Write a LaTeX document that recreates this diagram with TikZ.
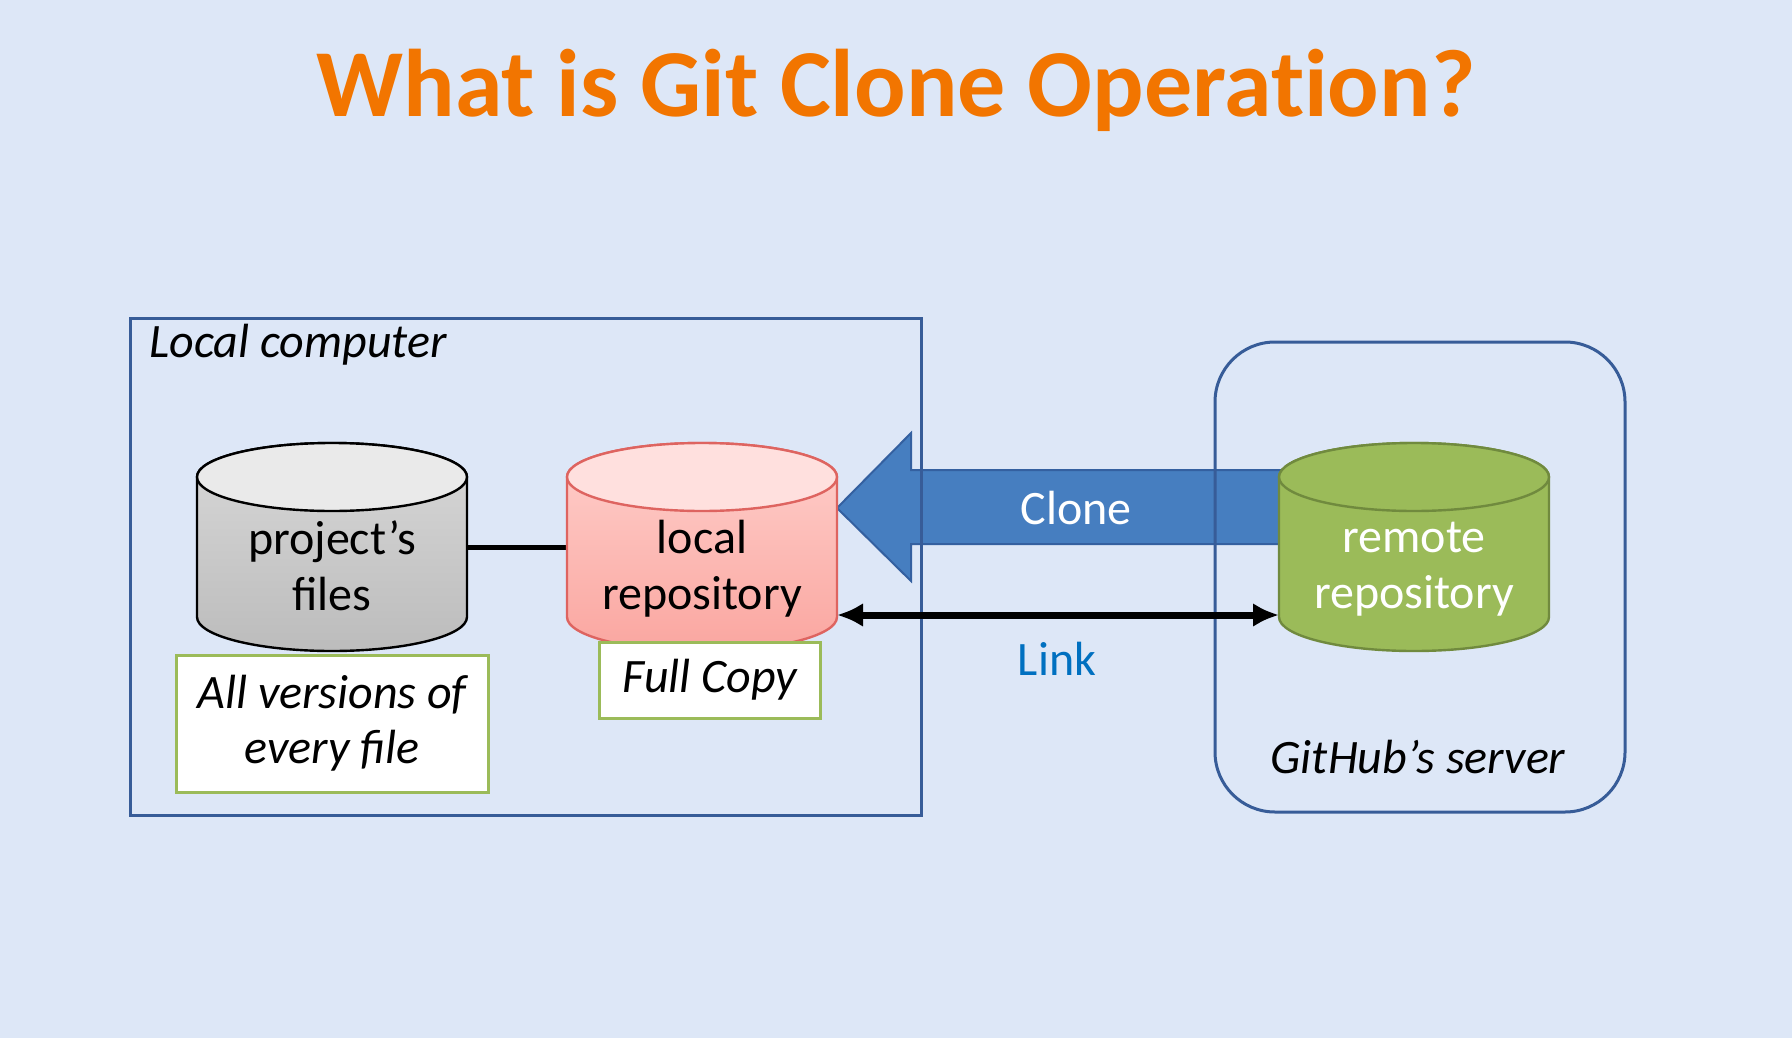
\documentclass[tikz,border=0pt]{standalone}
\usepackage{fontspec}
\setmainfont{Carlito}
\usetikzlibrary{positioning, arrows.meta}

\definecolor{slidebg}{RGB}{221,231,247}
\definecolor{titleorange}{RGB}{242,117,0}
\definecolor{frameblue}{RGB}{55,92,152}
\definecolor{notegreen}{RGB}{155,187,89}
\definecolor{clonefill}{RGB}{70,126,192}
\definecolor{cloneline}{RGB}{52,96,160}
\definecolor{linkblue}{RGB}{0,112,192}
\definecolor{grayend}{RGB}{234,234,234}
\definecolor{graytop}{RGB}{216,216,216}
\definecolor{graybottom}{RGB}{188,188,188}
\definecolor{redend}{RGB}{255,224,222}
\definecolor{redtop}{RGB}{255,208,204}
\definecolor{redbottom}{RGB}{250,166,160}
\definecolor{redline}{RGB}{222,100,96}
\definecolor{greenfill}{RGB}{155,187,89}
\definecolor{greenline}{RGB}{112,138,62}

\tikzset{
    cylbox/.style={draw=none, minimum width=135pt, minimum height=104pt, inner sep=0pt, outer sep=0pt},
    cyltext/.style={align=center, inner sep=0pt, font=\fontsize{24}{28}\selectfont},
    notebox/.style={draw=notegreen, line width=1.5pt, fill=white, inner sep=0pt, outer sep=0pt, align=center, font=\fontsize{24}{27.5}\selectfont\itshape},
    framebox/.style={draw=frameblue, line width=1.5pt, inner sep=0pt, outer sep=0pt},
    plaintext/.style={inner sep=0pt, font=\fontsize{24}{28}\selectfont\itshape}
}

\begin{document}
\begin{tikzpicture}[x=0.5pt, y=-0.5pt]
        %%% Slide background
            \fill[slidebg] (0,0) rectangle (1792,1038);
            \useasboundingbox (0,0) rectangle (1792,1038);

            % Title line
            \node[anchor=base, inner sep=0pt, text=titleorange, font=\fontsize{48}{56}\selectfont\bfseries\addfontfeature{Ligatures=NoCommon}] (title) at (896,117) {What is Git Clone Operation?};

        %%% Cylinders (empty boxes first, the drawing follows the anchors)
            \node[cylbox] (files) at (332,547) {};
            \node[cylbox, right=50pt of files] (lrepo) {};
            \node[cylbox, right=221pt of lrepo] (rrepo) {};

        %%% Clone arrow, from the remote to the local repository
            \draw[fill=clonefill, draw=cloneline, line width=1pt, line join=miter] ([yshift=19.5pt]lrepo.east) -- ++(37pt,37.5pt) -- ++(0,-18.5pt) -- ++(200pt,0) -- ++(0,-37pt) -- ++(-200pt,0) -- ++(0,-18.5pt) -- cycle;
            \node[inner sep=0pt, text=white, font=\fontsize{24}{28}\selectfont] (clonetxt) at (1076,508) {Clone};

        %%% Frames
            % Local computer, plain rectangle
            \node[framebox, minimum width=395.5pt, minimum height=248.5pt, anchor=north west] (local) at (130,318) {};
            \node[plaintext, anchor=base west] (localtxt) at ([xshift=9.5pt, yshift=-19.5pt]local.north west) {Local computer};

            % GitHub's server, rounded rectangle
            \node[framebox, rounded corners=30pt, minimum width=205pt, minimum height=235pt] (server) at (1420,577) {};
            \node[plaintext, anchor=base] (servertxt) at (1418,773) {GitHub's server};

        %%% Connectors
            \draw[line width=2.5pt] (files.east) -- (lrepo.west); % files to local repository
            \draw[line width=3.5pt, {Latex[length=13pt, width=12pt]}-{Latex[length=13pt, width=12pt]}] ([yshift=-34pt]lrepo.east) -- ([yshift=-34pt]rrepo.west); % link
            \node[inner sep=0pt, anchor=base, text=linkblue, font=\fontsize{24}{28}\selectfont] (linktxt) at (1057,675) {Link};

        %%% First cylinder: project's files
            \draw[draw=black, line width=1.2pt, top color=graytop, bottom color=graybottom] ([yshift=-17pt]files.north west) -- ([yshift=17pt]files.south west) arc[start angle=180, end angle=360, x radius=67.5pt, y radius=17pt] -- ([yshift=-17pt]files.north east) arc[start angle=0, end angle=180, x radius=67.5pt, y radius=17pt] -- cycle; % body
            \draw[draw=black, line width=1.2pt, fill=grayend] ([yshift=-17pt]files.north) ellipse[x radius=67.5pt, y radius=17pt]; % top side
            \node[cyltext] (filestxt) at ([yshift=-9.5pt]files.center) {project's\\files};

        %%% Second cylinder: local repository
            \draw[draw=redline, line width=1.2pt, top color=redtop, bottom color=redbottom] ([yshift=-17pt]lrepo.north west) -- ([yshift=17pt]lrepo.south west) arc[start angle=180, end angle=360, x radius=67.5pt, y radius=17pt] -- ([yshift=-17pt]lrepo.north east) arc[start angle=0, end angle=180, x radius=67.5pt, y radius=17pt] -- cycle; % body
            \draw[draw=redline, line width=1.2pt, fill=redend] ([yshift=-17pt]lrepo.north) ellipse[x radius=67.5pt, y radius=17pt]; % top side
            \node[cyltext] (lrepotxt) at ([yshift=-11pt]lrepo.center) {local\\repository};

        %%% Third cylinder: remote repository
            \draw[draw=greenline, line width=1.2pt, fill=greenfill] ([yshift=-17pt]rrepo.north west) -- ([yshift=17pt]rrepo.south west) arc[start angle=180, end angle=360, x radius=67.5pt, y radius=17pt] -- ([yshift=-17pt]rrepo.north east) arc[start angle=0, end angle=180, x radius=67.5pt, y radius=17pt] -- cycle; % body
            \draw[draw=greenline, line width=1.2pt, fill=greenfill] ([yshift=-17pt]rrepo.north) ellipse[x radius=67.5pt, y radius=17pt]; % top side
            \node[cyltext, text=white] (rrepotxt) at ([yshift=-11pt]rrepo.center) {remote\\repository};

        %%% Notes under the cylinders
            \node[notebox, minimum width=156pt, minimum height=68.5pt, below=2pt of files] (versions) {All versions of\\every file};
            \node[notebox, minimum width=110.5pt, minimum height=38pt, below=-4.5pt of lrepo, xshift=4pt] (copy) {Full Copy};
        \end{tikzpicture}
\end{document}
